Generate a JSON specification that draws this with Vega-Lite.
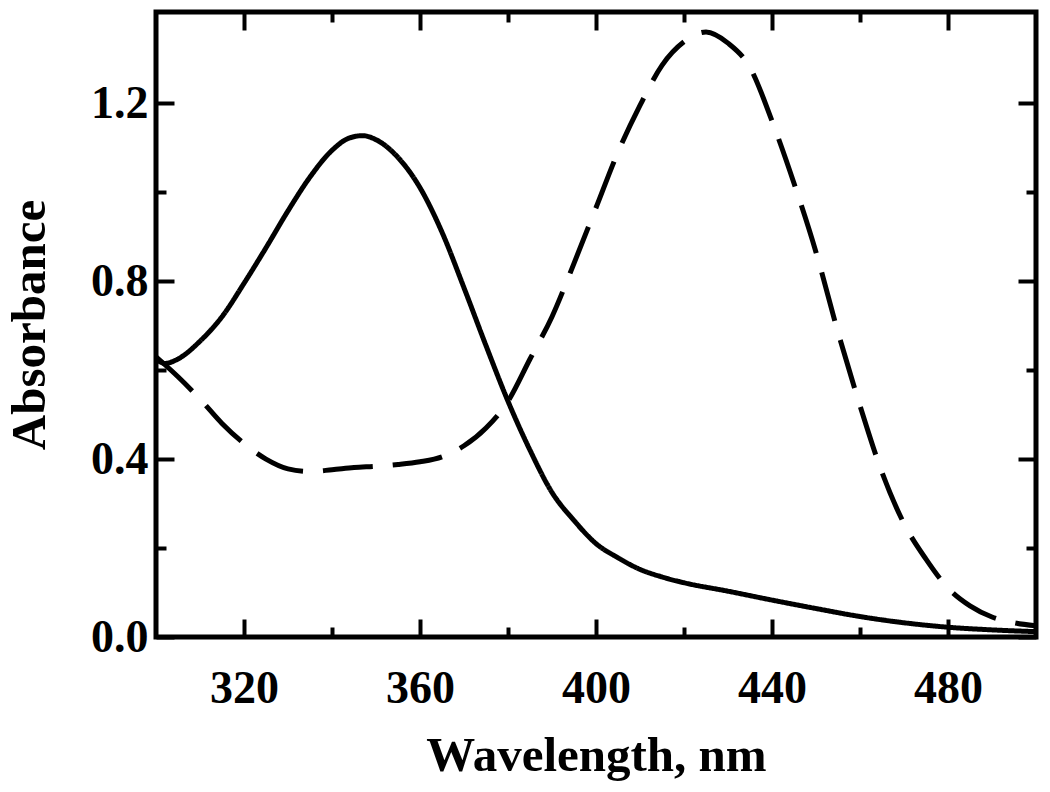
{
  "$schema": "https://vega.github.io/schema/vega-lite/v6.json",
  "width": 880,
  "height": 625,
  "autosize": "none",
  "padding": {"left": 156, "top": 12, "right": 14, "bottom": 155},
  "background": "white",
  "config": {
    "view": {"stroke": "black", "strokeWidth": 5},
    "axis": {
      "labelFont": "Liberation Serif",
      "titleFont": "Liberation Serif",
      "labelFontWeight": "bold",
      "titleFontWeight": "bold",
      "labelColor": "black",
      "titleColor": "black",
      "tickColor": "black",
      "tickWidth": 4,
      "domain": false,
      "grid": false
    }
  },
  "data": {
    "values": [
      {"wavelength": 300, "absorbance": 0.625, "series": "A"},
      {"wavelength": 302, "absorbance": 0.615, "series": "A"},
      {"wavelength": 305, "absorbance": 0.625, "series": "A"},
      {"wavelength": 310, "absorbance": 0.665, "series": "A"},
      {"wavelength": 315, "absorbance": 0.72, "series": "A"},
      {"wavelength": 320, "absorbance": 0.795, "series": "A"},
      {"wavelength": 325, "absorbance": 0.875, "series": "A"},
      {"wavelength": 330, "absorbance": 0.958, "series": "A"},
      {"wavelength": 335, "absorbance": 1.034, "series": "A"},
      {"wavelength": 340, "absorbance": 1.094, "series": "A"},
      {"wavelength": 344, "absorbance": 1.122, "series": "A"},
      {"wavelength": 347, "absorbance": 1.127, "series": "A"},
      {"wavelength": 350, "absorbance": 1.118, "series": "A"},
      {"wavelength": 355, "absorbance": 1.078, "series": "A"},
      {"wavelength": 360, "absorbance": 1.01, "series": "A"},
      {"wavelength": 365, "absorbance": 0.91, "series": "A"},
      {"wavelength": 370, "absorbance": 0.785, "series": "A"},
      {"wavelength": 375, "absorbance": 0.655, "series": "A"},
      {"wavelength": 380, "absorbance": 0.53, "series": "A"},
      {"wavelength": 385, "absorbance": 0.42, "series": "A"},
      {"wavelength": 390, "absorbance": 0.325, "series": "A"},
      {"wavelength": 395, "absorbance": 0.262, "series": "A"},
      {"wavelength": 400, "absorbance": 0.21, "series": "A"},
      {"wavelength": 405, "absorbance": 0.178, "series": "A"},
      {"wavelength": 410, "absorbance": 0.152, "series": "A"},
      {"wavelength": 415, "absorbance": 0.135, "series": "A"},
      {"wavelength": 420, "absorbance": 0.122, "series": "A"},
      {"wavelength": 430, "absorbance": 0.103, "series": "A"},
      {"wavelength": 440, "absorbance": 0.083, "series": "A"},
      {"wavelength": 450, "absorbance": 0.064, "series": "A"},
      {"wavelength": 460, "absorbance": 0.046, "series": "A"},
      {"wavelength": 470, "absorbance": 0.032, "series": "A"},
      {"wavelength": 480, "absorbance": 0.022, "series": "A"},
      {"wavelength": 490, "absorbance": 0.016, "series": "A"},
      {"wavelength": 500, "absorbance": 0.012, "series": "A"},
      {"wavelength": 300, "absorbance": 0.63, "series": "B"},
      {"wavelength": 305, "absorbance": 0.585, "series": "B"},
      {"wavelength": 310, "absorbance": 0.535, "series": "B"},
      {"wavelength": 315, "absorbance": 0.48, "series": "B"},
      {"wavelength": 320, "absorbance": 0.435, "series": "B"},
      {"wavelength": 325, "absorbance": 0.4, "series": "B"},
      {"wavelength": 330, "absorbance": 0.378, "series": "B"},
      {"wavelength": 335, "absorbance": 0.372, "series": "B"},
      {"wavelength": 340, "absorbance": 0.376, "series": "B"},
      {"wavelength": 345, "absorbance": 0.381, "series": "B"},
      {"wavelength": 350, "absorbance": 0.384, "series": "B"},
      {"wavelength": 355, "absorbance": 0.388, "series": "B"},
      {"wavelength": 360, "absorbance": 0.394, "series": "B"},
      {"wavelength": 365, "absorbance": 0.405, "series": "B"},
      {"wavelength": 370, "absorbance": 0.43, "series": "B"},
      {"wavelength": 375, "absorbance": 0.47, "series": "B"},
      {"wavelength": 380, "absorbance": 0.53, "series": "B"},
      {"wavelength": 385, "absorbance": 0.625, "series": "B"},
      {"wavelength": 390, "absorbance": 0.72, "series": "B"},
      {"wavelength": 395, "absorbance": 0.84, "series": "B"},
      {"wavelength": 400, "absorbance": 0.965, "series": "B"},
      {"wavelength": 405, "absorbance": 1.09, "series": "B"},
      {"wavelength": 410, "absorbance": 1.195, "series": "B"},
      {"wavelength": 415, "absorbance": 1.285, "series": "B"},
      {"wavelength": 420, "absorbance": 1.338, "series": "B"},
      {"wavelength": 425, "absorbance": 1.36, "series": "B"},
      {"wavelength": 430, "absorbance": 1.335, "series": "B"},
      {"wavelength": 435, "absorbance": 1.28, "series": "B"},
      {"wavelength": 440, "absorbance": 1.16, "series": "B"},
      {"wavelength": 445, "absorbance": 1.02, "series": "B"},
      {"wavelength": 450, "absorbance": 0.865, "series": "B"},
      {"wavelength": 455, "absorbance": 0.685, "series": "B"},
      {"wavelength": 460, "absorbance": 0.52, "series": "B"},
      {"wavelength": 465, "absorbance": 0.37, "series": "B"},
      {"wavelength": 470, "absorbance": 0.255, "series": "B"},
      {"wavelength": 475, "absorbance": 0.175, "series": "B"},
      {"wavelength": 480, "absorbance": 0.11, "series": "B"},
      {"wavelength": 485, "absorbance": 0.07, "series": "B"},
      {"wavelength": 490, "absorbance": 0.045, "series": "B"},
      {"wavelength": 495, "absorbance": 0.032, "series": "B"},
      {"wavelength": 500, "absorbance": 0.025, "series": "B"}
    ]
  },
  "layer": [
    {
      "mark": {"type": "line", "color": "black", "strokeWidth": 5, "interpolate": "monotone", "clip": true},
      "encoding": {
        "x": {"field": "wavelength", "type": "quantitative", "scale": {"domain": [300, 500], "nice": false, "zero": false},
          "axis": {"orient": "bottom", "values": [320, 360, 400, 440, 480], "tickSize": -18, "labelFontSize": 46, "labelPadding": 47, "title": "Wavelength, nm", "titleFontSize": 49, "titlePadding": 20}},
        "y": {"field": "absorbance", "type": "quantitative", "scale": {"domain": [0, 1.405], "nice": false, "zero": false},
          "axis": {"orient": "left", "values": [0, 0.4, 0.8, 1.2], "format": ".1f", "tickSize": -18, "labelFontSize": 46, "labelPadding": 26, "title": "Absorbance", "titleFontSize": 49, "titlePadding": 36}},
        "strokeDash": {"field": "series", "type": "nominal", "scale": {"domain": ["A", "B"], "range": [[1, 0], [50, 20]]}, "legend": null}
      }
    },
    {
      "mark": {"type": "line", "opacity": 0},
      "encoding": {
        "x": {"field": "wavelength", "type": "quantitative", "axis": {"orient": "bottom", "values": [340, 380, 420, 460], "tickSize": -10, "labels": false, "title": null}},
        "y": {"field": "absorbance", "type": "quantitative", "axis": {"orient": "left", "values": [0.2, 0.6, 1.0], "tickSize": -10, "labels": false, "title": null}},
        "detail": {"field": "series", "type": "nominal"}
      }
    },
    {
      "mark": {"type": "line", "opacity": 0},
      "encoding": {
        "x": {"field": "wavelength", "type": "quantitative", "axis": {"orient": "top", "values": [320, 360, 400, 440, 480], "tickSize": -18, "labels": false, "title": null}},
        "y": {"field": "absorbance", "type": "quantitative", "axis": {"orient": "right", "values": [0, 0.4, 0.8, 1.2], "tickSize": -18, "labels": false, "title": null}},
        "detail": {"field": "series", "type": "nominal"}
      }
    },
    {
      "mark": {"type": "line", "opacity": 0},
      "encoding": {
        "x": {"field": "wavelength", "type": "quantitative", "axis": {"orient": "top", "values": [340, 380, 420, 460], "tickSize": -10, "labels": false, "title": null}},
        "y": {"field": "absorbance", "type": "quantitative", "axis": {"orient": "right", "values": [0.2, 0.6, 1.0], "tickSize": -10, "labels": false, "title": null}},
        "detail": {"field": "series", "type": "nominal"}
      }
    }
  ],
  "resolve": {"axis": {"x": "independent", "y": "independent"}}
}
